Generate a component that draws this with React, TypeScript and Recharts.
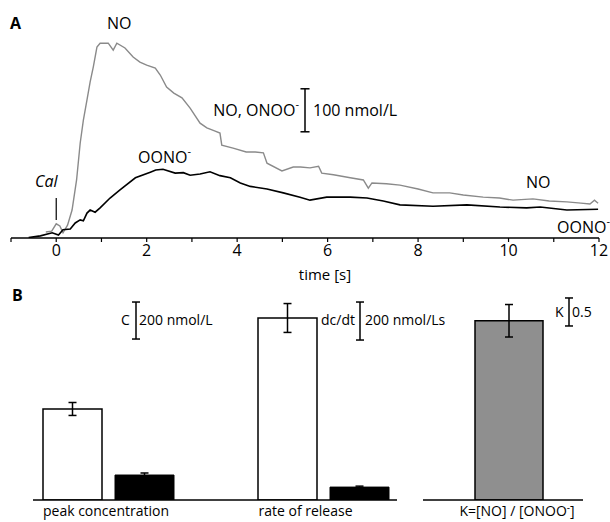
import React from 'react';
import { LineChart, Line, XAxis, YAxis, ReferenceLine, BarChart, Bar, ErrorBar } from 'recharts';

// ---- Panel A: time course (nmol/L) ----
const noTime = [-0.23, -0.1, 0, 0.08, 0.15, 0.25, 0.35, 0.45, 0.53, 0.6, 0.68, 0.75, 0.82, 0.9, 0.97, 1.15, 1.26, 1.34, 1.52, 1.7, 1.85, 2.0, 2.19, 2.3, 2.44, 2.6, 2.78, 2.96, 3.18, 3.33, 3.5, 3.62, 3.66, 3.91, 4.2, 4.4, 4.58, 4.66, 4.99, 5.24, 5.4, 5.61, 5.8, 5.87, 6.13, 6.5, 6.79, 6.9, 6.98, 7.3, 7.6, 8.0, 8.33, 8.7, 9.0, 9.44, 9.8, 10.1, 10.54, 10.9, 11.29, 11.6, 11.8, 11.9, 11.98];
const noValue = [14, 16, 33, 28, 12, 30, 65, 135, 221, 274, 321, 363, 398, 444, 453, 453, 437, 453, 442, 421, 409, 402, 395, 379, 351, 337, 326, 302, 267, 256, 249, 244, 216, 209, 200, 200, 198, 174, 156, 165, 165, 163, 167, 151, 147, 140, 135, 116, 128, 126, 123, 114, 105, 105, 100, 95, 93, 88, 91, 86, 84, 81, 79, 88, 81];
const oonoTime = [-0.61, -0.35, -0.09, 0.05, 0.15, 0.31, 0.42, 0.53, 0.6, 0.68, 0.75, 0.86, 0.97, 1.19, 1.41, 1.75, 2.08, 2.2, 2.36, 2.63, 2.81, 2.96, 3.18, 3.4, 3.62, 3.85, 4.07, 4.29, 4.66, 5.02, 5.39, 5.61, 5.98, 6.5, 6.87, 7.23, 7.6, 8.33, 9.08, 9.81, 10.4, 10.7, 11.29, 11.98];
const oonoValue = [1, 5, 12, 7, 19, 21, 35, 42, 40, 58, 65, 60, 70, 93, 112, 140, 153, 158, 160, 151, 152, 146, 149, 154, 145, 140, 128, 120, 114, 105, 95, 88, 95, 95, 93, 86, 77, 74, 77, 72, 70, 72, 65, 67];
const timeTicks = [-1, 0, 1, 2, 3, 4, 5, 6, 7, 8, 9, 10, 11, 12];

// ---- Panel B: bars ----
const peakCategory = ['peak concentration'];
const peakNO = [492];
const peakNOErr = [35];
const peakONOO = [135];
const peakONOOErr = [11];

const rateCategory = ['rate of release'];
const rateNO = [958];
const rateNOErr = [76];
const rateONOO = [68];
const rateONOOErr = [5];

const ratioCategory = ['K=[NO] / [ONOO-]'];
const ratioK = [3.2];
const ratioKErr = [0.29];

const noSeries = noTime.map((t, i) => ({ t, v: noValue[i] }));
const oonoSeries = oonoTime.map((t, i) => ({ t, v: oonoValue[i] }));
const peakData = peakCategory.map((name, i) => ({ name, no: peakNO[i], noErr: peakNOErr[i], onoo: peakONOO[i], onooErr: peakONOOErr[i] }));
const rateData = rateCategory.map((name, i) => ({ name, no: rateNO[i], noErr: rateNOErr[i], onoo: rateONOO[i], onooErr: rateONOOErr[i] }));
const ratioData = ratioCategory.map((name, i) => ({ name, k: ratioK[i], kErr: ratioKErr[i] }));

const FONT = '"Open Sans", sans-serif';

const scaleBarLines = (x: number, y0: number, y1: number, cap: number) => {
  const common = { stroke: '#000', strokeWidth: 1.5, ifOverflow: 'visible' as const };
  return [
    <ReferenceLine key="v" {...common} segment={[{ x, y: y0 }, { x, y: y1 }]} />,
    <ReferenceLine key="b" {...common} segment={[{ x: x - cap, y: y0 }, { x: x + cap, y: y0 }]} />,
    <ReferenceLine key="t" {...common} segment={[{ x: x - cap, y: y1 }, { x: x + cap, y: y1 }]} />,
  ];
};

// overlay chart sharing the vertical scale of a bar panel, used for its scale bar
const ScaleOverlay = ({ width, left, yMax, x, y0, y1 }: any) => (
  <div style={{ position: 'absolute', left, top: 290, pointerEvents: 'none' }}>
    <LineChart width={width} height={232} margin={{ top: 5, right: 0, bottom: 22, left: 0 }}>
      <XAxis type="number" dataKey="x" domain={[0, width]} hide allowDataOverflow />
      <YAxis type="number" domain={[0, yMax]} hide allowDataOverflow />
      <Line data={[]} dataKey="y" isAnimationActive={false} />
      {scaleBarLines(x, y0, y1, 4)}
    </LineChart>
  </div>
);

const CatTick = (props: any) => {
  const { x, y, payload, shift } = props;
  const label: string = payload.value;
  const sup = label.endsWith('-]');
  return (
    <text x={x + shift} y={y} dy={10} textAnchor="middle" fontFamily={FONT} fontSize={14} fill="#000">
      {sup ? (
        <>
          <tspan>{label.slice(0, -2)}</tspan>
          <tspan dy={-5} fontSize={10}>-</tspan>
          <tspan dy={5}>]</tspan>
        </>
      ) : label}
    </text>
  );
};

export default function App() {
  const txt = { fontFamily: FONT, fill: '#000' };
  return (
    <div style={{ position: 'absolute', left: 0, top: 0, width: 610, height: 522, background: '#fff' }}>
      <div style={{ position: 'absolute', left: 0, top: 0 }}>
        <LineChart width={610} height={285} margin={{ top: 23, right: 11, bottom: 7, left: 11 }}>
          <XAxis dataKey="t" type="number" domain={[-1, 12]} ticks={timeTicks} allowDataOverflow
            tickFormatter={(v: number) => (v % 2 === 0 ? String(v) : '')}
            height={40} tickSize={4} tickMargin={3}
            axisLine={{ stroke: '#000', strokeWidth: 1.5 }} tickLine={{ stroke: '#000', strokeWidth: 1.2 }}
            tick={{ fontFamily: FONT, fontSize: 16, fill: '#000' }} />
          <YAxis hide type="number" domain={[0, 500]} allowDataOverflow />
          <Line data={noSeries} dataKey="v" type="linear" stroke="#8a8a8a" strokeWidth={1.4} dot={false} isAnimationActive={false} />
          <Line data={oonoSeries} dataKey="v" type="linear" stroke="#000" strokeWidth={1.6} dot={false} isAnimationActive={false} />
          {scaleBarLines(5.5, 247, 347, 0.1)}
          <ReferenceLine stroke="#000" strokeWidth={1.2} segment={[{ x: 0, y: 42 }, { x: 0, y: 93 }]} />
        </LineChart>
      </div>

      <div style={{ position: 'absolute', left: 0, top: 290 }}>
        <BarChart width={215} height={232} data={peakData} margin={{ top: 5, right: 0, bottom: 0, left: 33 }} barGap={13}>
          <XAxis dataKey="name" height={22} padding={{ left: 0, right: 32 }} tickSize={0} tickMargin={6}
            axisLine={{ stroke: '#000', strokeWidth: 1.5 }} tickLine={false}
            tick={(p: any) => <CatTick {...p} shift={-2} />} />
          <YAxis hide type="number" domain={[0, 1108]} allowDataOverflow />
          <Bar dataKey="no" fill="#fff" stroke="#000" strokeWidth={1.5} barSize={59} isAnimationActive={false}>
            <ErrorBar dataKey="noErr" width={4} stroke="#000" strokeWidth={1.5} />
          </Bar>
          <Bar dataKey="onoo" fill="#000" stroke="#000" strokeWidth={1} barSize={59} isAnimationActive={false}>
            <ErrorBar dataKey="onooErr" width={4} stroke="#000" strokeWidth={1.5} />
          </Bar>
        </BarChart>
      </div>
      <ScaleOverlay width={215} left={0} yMax={1108} x={136} y0={870} y1={1070} />

      <div style={{ position: 'absolute', left: 215, top: 290 }}>
        <BarChart width={182} height={232} data={rateData} margin={{ top: 5, right: 0, bottom: 0, left: 0 }} barGap={13}>
          <XAxis dataKey="name" height={22} padding={{ left: 35, right: 0 }} tickSize={0} tickMargin={6}
            axisLine={{ stroke: '#000', strokeWidth: 1.5 }} tickLine={false}
            tick={(p: any) => <CatTick {...p} shift={-18} />} />
          <YAxis hide type="number" domain={[0, 1079]} allowDataOverflow />
          <Bar dataKey="no" fill="#fff" stroke="#000" strokeWidth={1.5} barSize={59} isAnimationActive={false}>
            <ErrorBar dataKey="noErr" width={4} stroke="#000" strokeWidth={1.5} />
          </Bar>
          <Bar dataKey="onoo" fill="#000" stroke="#000" strokeWidth={1} barSize={59} isAnimationActive={false}>
            <ErrorBar dataKey="onooErr" width={4} stroke="#000" strokeWidth={1.5} />
          </Bar>
        </BarChart>
      </div>
      <ScaleOverlay width={182} left={215} yMax={1079} x={145} y0={842} y1={1042} />

      <div style={{ position: 'absolute', left: 423, top: 290 }}>
        <BarChart width={160} height={232} data={ratioData} margin={{ top: 5, right: 0, bottom: 0, left: 0 }}>
          <XAxis dataKey="name" height={22} padding={{ left: 12, right: 0 }} tickSize={0} tickMargin={6}
            axisLine={{ stroke: '#000', strokeWidth: 1.5 }} tickLine={false}
            tick={(p: any) => <CatTick {...p} shift={8} />} />
          <YAxis hide type="number" domain={[0, 3.66]} allowDataOverflow />
          <Bar dataKey="k" fill="#8f8f8f" stroke="#000" strokeWidth={1.5} barSize={68} isAnimationActive={false}>
            <ErrorBar dataKey="kErr" width={4} stroke="#000" strokeWidth={1.5} />
          </Bar>
        </BarChart>
      </div>
      <ScaleOverlay width={160} left={423} yMax={3.66} x={146} y0={3.107} y1={3.607} />

      <svg width={610} height={522} style={{ position: 'absolute', left: 0, top: 0, pointerEvents: 'none' }}>
        <text x={10} y={29} fontSize={16} fontWeight="bold" {...txt}>A</text>
        <text x={12} y={301} fontSize={16} fontWeight="bold" {...txt}>B</text>
        <text x={107} y={29} fontSize={16} {...txt}>NO</text>
        <text x={299} y={116} textAnchor="end" fontSize={16} {...txt}>NO, ONOO<tspan dy={-8} fontSize={11}>-</tspan></text>
        <text x={313} y={116} fontSize={16} {...txt}>100 nmol/L</text>
        <text x={138} y={163} fontSize={16} {...txt}>OONO<tspan dy={-8} fontSize={11}>-</tspan></text>
        <text x={35} y={187} fontSize={16} fontStyle="italic" {...txt}>Cal</text>
        <text x={526} y={188} fontSize={16} {...txt}>NO</text>
        <text x={557} y={233} fontSize={16} {...txt}>OONO<tspan dy={-8} fontSize={11}>-</tspan></text>
        <text x={325} y={280} textAnchor="middle" fontSize={15} {...txt}>time [s]</text>
        <text x={121} y={325} fontSize={14} {...txt}>C</text>
        <text x={139} y={325} fontSize={14} {...txt}>200 nmol/L</text>
        <text x={321} y={325} fontSize={14} {...txt}>dc/dt</text>
        <text x={365} y={325} fontSize={14} {...txt}>200 nmol/Ls</text>
        <text x={555} y={317} fontSize={14} {...txt}>K</text>
        <text x={572} y={317} fontSize={14} {...txt}>0.5</text>
      </svg>
    </div>
  );
}
